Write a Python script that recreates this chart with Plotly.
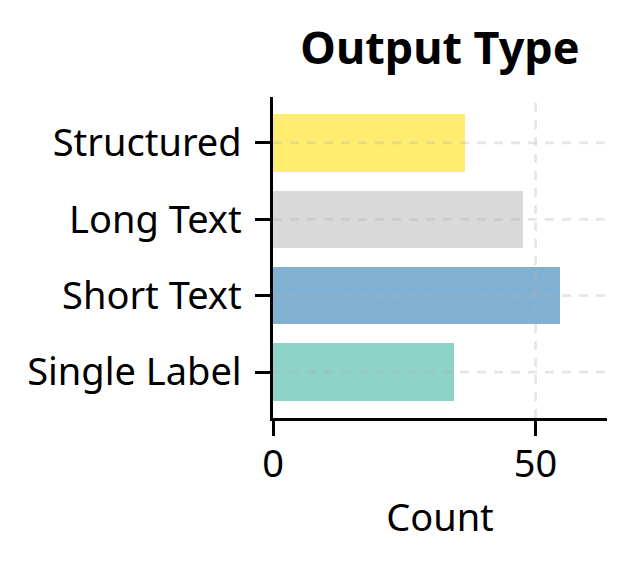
import plotly.graph_objects as go

# data
categories = ["Single Label", "Short Text", "Long Text", "Structured"]
counts = [34.5, 54.7, 47.6, 36.6]
bar_colors = ["#8dd3c7", "#80b1d3", "#d9d9d9", "#ffed6f"]
x_ticks = [0, 50]

FONT = "Noto Sans"
GRID = "rgba(176,176,176,0.32)"
PAD = 8  # the page body has an 8px margin

fig = go.Figure(go.Bar(
    y=categories,
    x=counts,
    orientation="h",
    width=0.75,
    marker=dict(color=bar_colors, line=dict(width=0)),
    showlegend=False,
))

# matplotlib-style dashed grid, drawn on top of the bars
for cat in categories:
    fig.add_shape(type="line", layer="above",
                  xref="x domain", x0=0, x1=1, yref="y", y0=cat, y1=cat,
                  line=dict(color=GRID, width=2.7, dash="9px,8px"))
for t in x_ticks[1:]:
    fig.add_shape(type="line", layer="above",
                  xref="x", x0=t, x1=t, yref="y domain", y0=0, y1=1,
                  line=dict(color=GRID, width=2.7, dash="9px,8px"))

fig.update_layout(
    width=634,
    height=574,
    margin=dict(l=273 - PAD, r=27 + PAD, t=97 - PAD, b=156 + PAD),
    paper_bgcolor="white",
    plot_bgcolor="white",
    font=dict(family=FONT, color="black", size=38),
    title=dict(text="<b>Output Type</b>", font=dict(family=FONT, size=45, color="black"),
               x=0.5, xref="paper", xanchor="center",
               y=1 - (48 - PAD) / 574, yref="container", yanchor="middle"),
    bargap=0,
)
fig.update_xaxes(
    range=[0, 63.6],
    tickvals=x_ticks,
    ticktext=[str(t) for t in x_ticks],
    showgrid=False,
    zeroline=False,
    showline=True, linecolor="black", linewidth=2.5,
    ticks="outside", ticklen=15, tickwidth=2.5, tickcolor="black",
    tickfont=dict(size=38),
    ticklabelstandoff=-4,
    title=dict(text="Count", font=dict(size=38), standoff=18),
)
fig.update_yaxes(
    range=[-0.6, 3.6],
    categoryorder="array", categoryarray=categories,
    showgrid=False,
    zeroline=False,
    showline=True, linecolor="black", linewidth=2.5,
    ticks="outside", ticklen=15, tickwidth=2.5, tickcolor="black",
    tickfont=dict(size=38),
    ticklabelstandoff=6,
)

fig.write_html("out.html")
